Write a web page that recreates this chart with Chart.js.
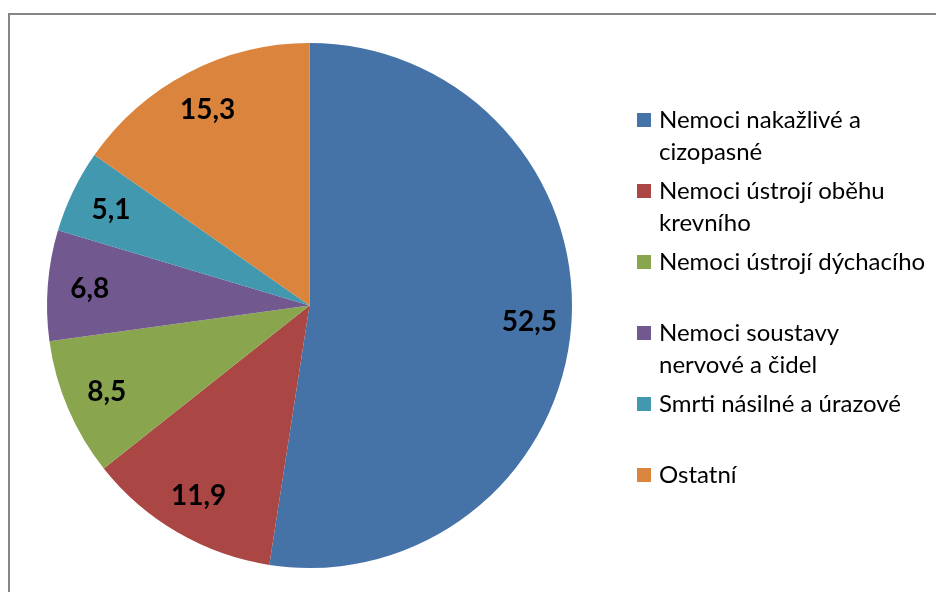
<!DOCTYPE html>
<html>
<head>
<meta charset="utf-8">
<script src="https://cdn.jsdelivr.net/npm/chart.js@4"></script>
<style>
  html, body { margin: 0; padding: 0; background: #fff; overflow: hidden; }
  #wrap { position: relative; width: 936px; height: 592px; }
  #frame {
    position: absolute; left: 8px; top: 13px; width: 960px; height: 620px;
    border-top: 2px solid #868686; border-left: 2px solid #868686;
  }
  canvas { position: absolute; left: 0; top: 0; }
</style>
</head>
<body>
<div id="wrap">
  <div id="frame"></div>
  <canvas id="chart" width="936" height="592"></canvas>
</div>
<script>
// categories (legend lines) and values
const categories = [
  ["Nemoci nakažlivé a", "cizopasné"],
  ["Nemoci ústrojí oběhu", "krevního"],
  ["Nemoci ústrojí dýchacího"],
  ["Nemoci soustavy", "nervové a čidel"],
  ["Smrti násilné a úrazové"],
  ["Ostatní"]
];
const values = [52.5, 11.9, 8.5, 6.8, 5.1, 15.3];
const valueLabels = ["52,5", "11,9", "8,5", "6,8", "5,1", "15,3"];
const colors = ["#4572A7", "#AA4643", "#89A54E", "#71588F", "#4198AF", "#DB843D"];

// hodnoty uvnitř výsečí
const sliceLabels = {
  id: "sliceLabels",
  afterDatasetsDraw(chart) {
    const ctx = chart.ctx;
    const arcs = chart.getDatasetMeta(0).data;
    ctx.save();
    ctx.font = "bold 28px Lato";
    ctx.fillStyle = "#000";
    ctx.textAlign = "center";
    ctx.textBaseline = "middle";
    arcs.forEach((arc, i) => {
      const p = arc.getProps(["x", "y", "startAngle", "endAngle", "outerRadius"], true);
      const mid = (p.startAngle + p.endAngle) / 2;
      const r = p.outerRadius * 0.84;
      ctx.fillText(valueLabels[i], p.x + Math.cos(mid) * r, p.y + Math.sin(mid) * r);
    });
    ctx.restore();
  }
};

// legenda vpravo, víceřádkové popisky
const sideLegend = {
  id: "sideLegend",
  afterDraw(chart) {
    const ctx = chart.ctx;
    const x0 = 637, y0 = 120, step = 71, lineH = 32;
    ctx.save();
    ctx.font = "24px Lato";
    ctx.textBaseline = "middle";
    ctx.textAlign = "left";
    categories.forEach((lines, i) => {
      const y = y0 + i * step;
      ctx.fillStyle = colors[i];
      ctx.fillRect(x0, y - 7, 14, 14);
      ctx.fillStyle = "#000";
      lines.forEach((t, j) => ctx.fillText(t, x0 + 22, y + j * lineH));
    });
    ctx.restore();
  }
};

new Chart(document.getElementById("chart"), {
  type: "pie",
  data: {
    labels: categories.map(l => l.join(" ")),
    datasets: [{
      data: values,
      backgroundColor: colors,
      borderWidth: 0
    }]
  },
  options: {
    responsive: false,
    animation: false,
    layout: { padding: { left: 47, right: 364, top: 43, bottom: 24 } },
    plugins: {
      legend: { display: false },
      tooltip: { enabled: false }
    }
  },
  plugins: [sliceLabels, sideLegend]
});
</script>
</body>
</html>
